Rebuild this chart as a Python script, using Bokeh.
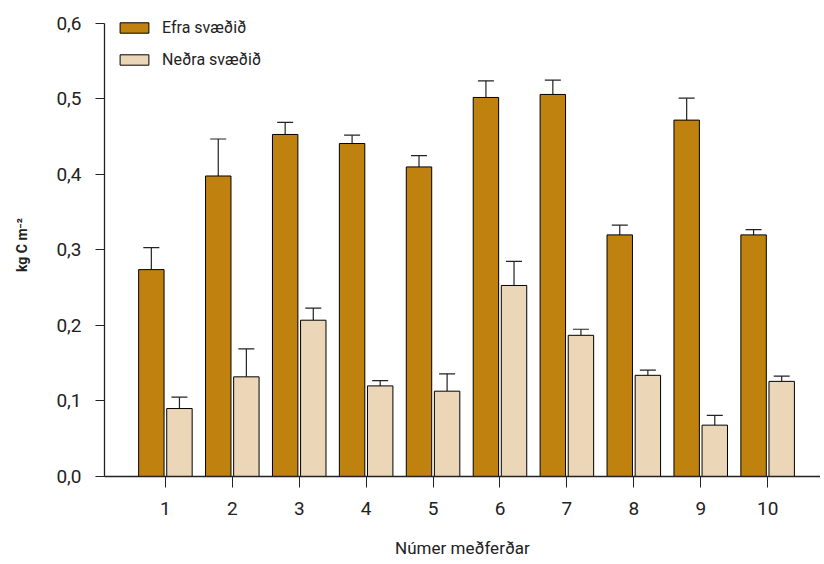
from bokeh.plotting import figure
from bokeh.models import ColumnDataSource, Whisker, TeeHead, FixedTicker, Legend, LegendItem, Range1d
from bokeh.embed import file_html
from bokeh.resources import INLINE

categories = [1, 2, 3, 4, 5, 6, 7, 8, 9, 10]
efra = [0.274, 0.398, 0.453, 0.441, 0.410, 0.502, 0.506, 0.320, 0.472, 0.320]
efra_err = [0.029, 0.049, 0.016, 0.011, 0.015, 0.022, 0.019, 0.013, 0.029, 0.007]
nedra = [0.090, 0.132, 0.207, 0.120, 0.113, 0.253, 0.187, 0.134, 0.068, 0.126]
nedra_err = [0.015, 0.037, 0.016, 0.007, 0.023, 0.032, 0.008, 0.007, 0.013, 0.007]
series_names = ["Efra svæðið", "Neðra svæðið"]
y_ticks = [0.0, 0.1, 0.2, 0.3, 0.4, 0.5, 0.6]
y_tick_labels = ["0,0", "0,1", "0,2", "0,3", "0,4", "0,5", "0,6"]
x_tick_labels = ["1", "2", "3", "4", "5", "6", "7", "8", "9", "10"]

OFFSET = 0.21
BAR_W = 0.38
colors = ["#C0820F", "#ECD6B8"]

p = figure(width=820, height=562, output_backend="svg", toolbar_location=None,
           x_range=Range1d(0.09, 10.79), y_range=Range1d(0.0, 0.6132),
           min_border_left=104, min_border_right=0, min_border_top=13, min_border_bottom=86)
p.outline_line_color = None
p.grid.grid_line_color = None
p.background_fill_color = "white"
p.border_fill_color = "white"

renderers = []
for vals, errs, off, col in [(efra, efra_err, -OFFSET, colors[0]), (nedra, nedra_err, OFFSET, colors[1])]:
    src = ColumnDataSource(dict(
        x=[c + off for c in categories],
        top=vals,
        upper=[v + e for v, e in zip(vals, errs)],
    ))
    r = p.vbar(x="x", top="top", bottom=0, width=BAR_W, source=src,
               fill_color=col, line_color="black", line_width=1)
    renderers.append(r)
    w = Whisker(base="x", lower="top", upper="upper", source=src,
                line_color="#222222", line_width=1.2,
                upper_head=TeeHead(size=16, line_color="#222222", line_width=1.2),
                lower_head=None)
    p.add_layout(w)

legend = Legend(items=[LegendItem(label=series_names[i], renderers=[renderers[i]]) for i in range(2)],
                location=(12, 407), orientation="vertical",
                glyph_width=36, glyph_height=13, label_height=20, spacing=12,
                label_standoff=10, padding=0, margin=0,
                border_line_color=None, background_fill_alpha=0,
                label_text_font="Roboto", label_text_font_size="16px", label_text_color="#222222")
p.add_layout(legend)

# axes
p.xaxis.ticker = FixedTicker(ticks=categories)
p.xaxis.major_label_overrides = {c: l for c, l in zip(categories, x_tick_labels)}
p.xaxis.major_tick_out = 11
p.xaxis.major_tick_in = 0
p.xaxis.minor_tick_line_color = None
p.xaxis.major_label_standoff = 14
p.xaxis.major_label_text_font = "Roboto"
p.xaxis.major_label_text_font_size = "19px"
p.xaxis.major_label_text_color = "#222222"
p.xaxis.axis_label = "Númer meðferðar"
p.xaxis.axis_label_text_font = "Roboto"
p.xaxis.axis_label_text_font_style = "normal"
p.xaxis.axis_label_text_font_size = "17px"
p.xaxis.axis_label_text_color = "#222222"
p.xaxis.axis_label_standoff = 20

p.yaxis.ticker = FixedTicker(ticks=y_ticks)
p.yaxis.bounds = (0.0, 0.6)
p.yaxis.major_label_overrides = {t: l for t, l in zip(y_ticks, y_tick_labels)}
p.yaxis.major_tick_out = 9
p.yaxis.major_tick_in = 0
p.yaxis.minor_tick_line_color = None
p.yaxis.major_label_standoff = 14
p.yaxis.major_label_text_font = "Roboto"
p.yaxis.major_label_text_font_size = "19px"
p.yaxis.major_label_text_color = "#222222"
p.yaxis.axis_label = "kg C m⁻²"
p.yaxis.axis_label_text_font = "Roboto"
p.yaxis.axis_label_text_font_style = "bold"
p.yaxis.axis_label_text_font_size = "14px"
p.yaxis.axis_label_text_color = "#222222"
p.yaxis.axis_label_standoff = 23

for ax in (p.xaxis, p.yaxis):
    ax.axis_line_color = "#222222"
    ax.axis_line_width = 1.3
    ax.major_tick_line_color = "#222222"
    ax.major_tick_line_width = 1

open("out.html", "w").write(file_html(p, INLINE))
